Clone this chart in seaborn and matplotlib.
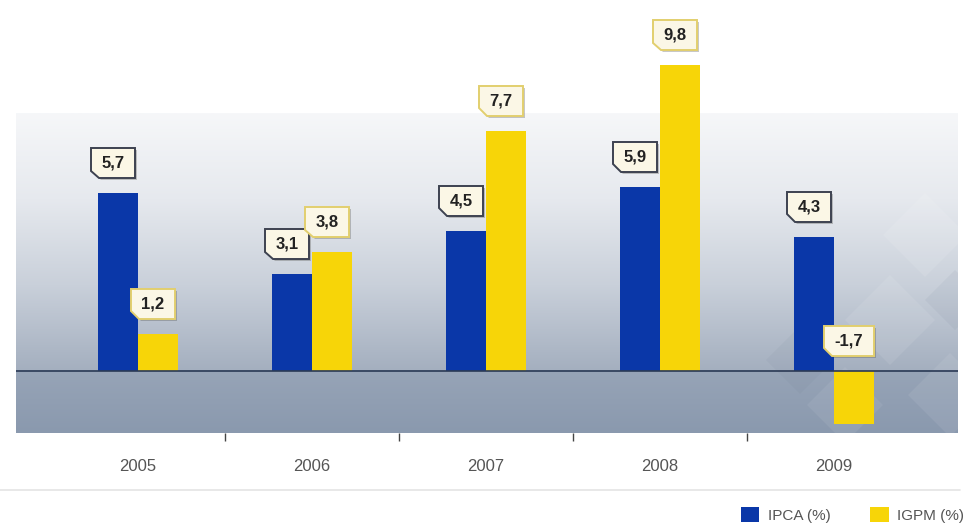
import numpy as np
import pandas as pd
import matplotlib
matplotlib.use("Agg")
import matplotlib.pyplot as plt
import seaborn as sns
from matplotlib.path import Path
from matplotlib.patches import Polygon, Rectangle
from matplotlib.lines import Line2D
from matplotlib.colors import LinearSegmentedColormap
import matplotlib.patheffects as pe

# ---- data ----
years = ["2005", "2006", "2007", "2008", "2009"]
ipca = [5.7, 3.1, 4.5, 5.9, 4.3]
igpm = [1.2, 3.8, 7.7, 9.8, -1.7]
series_names = ["IPCA (%)", "IGPM (%)"]
colors = ["#0A37A8", "#F7D508"]
edge_colors = ["#3d4250", "#e2cf6e"]

df = pd.DataFrame({
    "Ano": years * 2,
    "Valor": ipca + igpm,
    "Serie": [series_names[0]] * len(years) + [series_names[1]] * len(years),
})

sns.set_theme(style="white")
plt.rcParams["font.family"] = ["Liberation Sans", "DejaVu Sans"]

W, H = 964, 526
fig = plt.figure(figsize=(W / 100, H / 100), dpi=100)
ax = fig.add_axes([16 / W, 1 - 433 / H, 942 / W, 320 / H])

XMIN, XMAX = -0.701, 4.713
YMIN, YMAX = -1.99, 8.27

sns.barplot(data=df, x="Ano", y="Valor", hue="Serie", palette=colors,
            width=0.46, saturation=1, errorbar=None, ax=ax, legend=False,
            zorder=3)
for p in ax.patches:
    p.set_clip_on(False)
    p.set_edgecolor("none")

# background gradients
grad = np.linspace(0, 1, 256).reshape(-1, 1)
top_cmap = LinearSegmentedColormap.from_list("t", ["#a4afbf", "#c9d0da", "#e6e9ee", "#f6f7f9"])
bot_cmap = LinearSegmentedColormap.from_list("b", ["#8a99ae", "#97a4b7"])
ax.imshow(grad, extent=(XMIN, XMAX, 0, YMAX), origin="lower", cmap=top_cmap,
          aspect="auto", zorder=0)
ax.imshow(grad, extent=(XMIN, XMAX, YMIN, 0), origin="lower", cmap=bot_cmap,
          aspect="auto", zorder=0)

# decorative diamonds (lower right)
def px2ax(px, py):
    return ((px - 16) / 942, (433 - py) / 320)

for (cx, cy, r, col, a) in [(925, 235, 42, "white", 0.10), (890, 320, 45, "white", 0.09),
                            (950, 395, 42, "white", 0.08), (845, 405, 38, "white", 0.07),
                            (955, 300, 30, "#4a5a75", 0.06), (800, 360, 34, "#4a5a75", 0.05)]:
    pts = [px2ax(cx, cy - r), px2ax(cx + r, cy), px2ax(cx, cy + r), px2ax(cx - r, cy)]
    ax.add_patch(Polygon(pts, closed=True, transform=ax.transAxes, fc=col, ec="none",
                         alpha=a, zorder=1))

ax.axhline(0, color="#2b3a55", lw=1.2, zorder=4)

ax.set_xlim(XMIN, XMAX)
ax.set_ylim(YMIN, YMAX)
ax.set_xlabel("")
ax.set_ylabel("")
ax.set_yticks([])
ax.set_xticks(range(len(years)))
ax.set_xticklabels(years)
ax.set_xticks([i + 0.5 for i in range(len(years) - 1)], minor=True)
ax.tick_params(axis="x", which="both", bottom=True)
ax.tick_params(axis="x", which="major", length=0, pad=19, labelsize=12, labelcolor="#555555")
ax.tick_params(axis="x", which="minor", length=6, width=1, color="#444444", direction="out")
for s in ax.spines.values():
    s.set_visible(False)


def tag_box(x0, y0, width, height, mutation_size):
    px = 0.62 * mutation_size
    py = 0.45 * mutation_size
    c = 0.45 * mutation_size
    l, b, r, t = x0 - px, y0 - py, x0 + width + px, y0 + height + py
    verts = [(l + c, b), (r, b), (r, t), (l, t), (l, b + c), (l + c, b)]
    codes = [Path.MOVETO] + [Path.LINETO] * 4 + [Path.CLOSEPOLY]
    return Path(verts, codes)


values = ipca + igpm
n = len(years)
for k, (p, v) in enumerate(zip(ax.patches, values)):
    s = k // n
    x = p.get_x() + p.get_width() / 2
    txt = f"{v:.1f}".replace(".", ",")
    ann = ax.annotate(txt, xy=(x, max(v, 0)), xytext=(-5, 30), textcoords="offset pixels",
                      ha="center", va="center", fontsize=12, fontweight="bold", color="#222222",
                      bbox=dict(boxstyle=tag_box, fc="#fbf7e6", ec=edge_colors[s], lw=1.4),
                      annotation_clip=False, zorder=6)
    ann.get_bbox_patch().set_path_effects([
        pe.SimplePatchShadow(offset=(1.5, -1.5), alpha=0.3), pe.Normal()])

# separator line
fig.add_artist(Line2D([0, 960 / W], [1 - 490 / H] * 2, color="#e4e4e4", lw=1.2,
                      transform=fig.transFigure))

# legend
handles = [Rectangle((0, 0), 1, 1, fc=c, ec="none") for c in colors]
fig.legend(handles=handles, labels=series_names, loc="lower left",
           bbox_to_anchor=(741 / W, 3 / H), ncol=2, frameon=False, borderpad=0,
           borderaxespad=0, fontsize=11, labelcolor="#555555", handlelength=1.2,
           handleheight=1.1, handletextpad=0.55, columnspacing=2.6)

fig.savefig("out.png", dpi=100)
